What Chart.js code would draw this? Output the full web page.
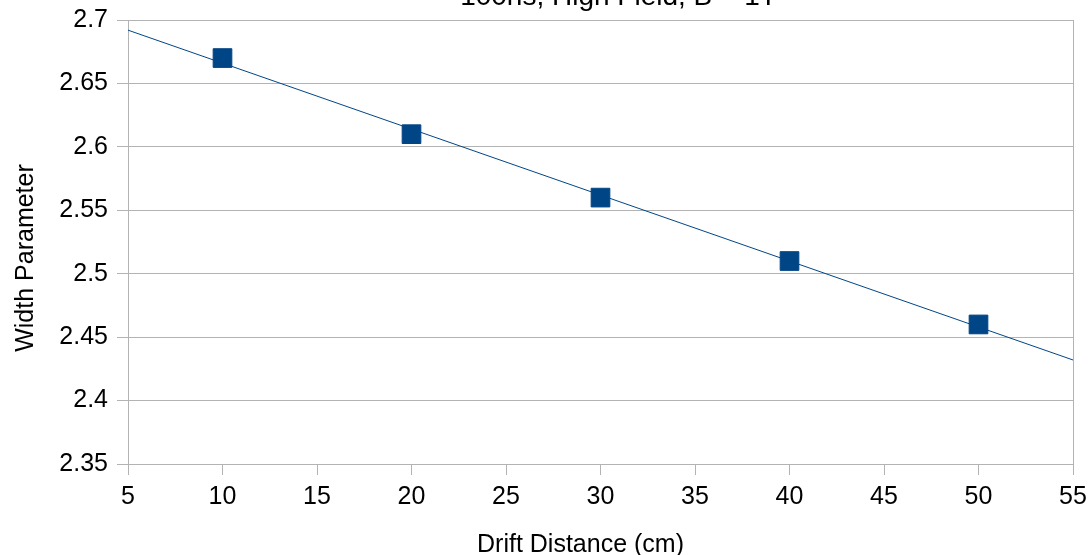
<!DOCTYPE html>
<html>
<head>
<meta charset="utf-8">
<script src="https://cdn.jsdelivr.net/npm/chart.js@4"></script>
<style>
  html, body { margin: 0; padding: 0; background: #ffffff; }
  #wrap { width: 1090px; height: 555px; position: relative; }
</style>
</head>
<body>
<div id="wrap"><canvas id="c" width="1090" height="555"></canvas></div>
<script>
// ---- data ----
const chartTitle = "100ns, High Field, B = 1T";
const xAxisTitle = "Drift Distance (cm)";
const yAxisTitle = "Width Parameter";
const driftDistance = [10, 20, 30, 40, 50];
const widthParameter = [2.67, 2.61, 2.56, 2.51, 2.46];
// linear trend line endpoints
const trendX = [5, 55];
const trendY = [2.692, 2.432];
const xTickLabels = ["5", "10", "15", "20", "25", "30", "35", "40", "45", "50", "55"];
const yTickLabels = ["2.35", "2.4", "2.45", "2.5", "2.55", "2.6", "2.65", "2.7"];

const seriesColor = "#004586";
const gridColor = "#b3b3b3";
const FONT = "'Liberation Sans', Arial, sans-serif";

const points = driftDistance.map((x, i) => ({ x: x, y: widthParameter[i] }));
const trend = trendX.map((x, i) => ({ x: x, y: trendY[i] }));

const textPlugin = {
  id: 'textPlugin',
  afterDraw(chart) {
    const ctx = chart.ctx;
    const a = chart.chartArea;
    ctx.save();
    ctx.fillStyle = '#000000';
    ctx.textAlign = 'center';
    ctx.textBaseline = 'alphabetic';
    // chart title (partially clipped at the top, as in the reference)
    ctx.font = "28px " + FONT;
    ctx.fillText(chartTitle, (a.left + a.right) / 2 + 18, 5);
    // x axis title
    ctx.font = "25px " + FONT;
    ctx.fillText(xAxisTitle, (a.left + a.right) / 2 - 20, 552);
    // y axis title
    ctx.translate(33, (a.top + a.bottom) / 2 + 16);
    ctx.rotate(-Math.PI / 2);
    ctx.fillText(yAxisTitle, 0, 0);
    ctx.restore();
  }
};

new Chart(document.getElementById('c'), {
  type: 'scatter',
  data: {
    datasets: [
      {
        label: 'Width Parameter',
        data: points,
        pointStyle: 'rect',
        pointRadius: 13.2,
        pointBackgroundColor: seriesColor,
        pointBorderColor: seriesColor,
        pointBorderWidth: 1,
        showLine: false
      },
      {
        label: 'Trend',
        data: trend,
        showLine: true,
        borderColor: seriesColor,
        borderWidth: 1,
        pointRadius: 0,
        fill: false
      }
    ]
  },
  options: {
    responsive: false,
    animation: false,
    devicePixelRatio: 1,
    layout: { padding: { top: 20, right: 17, left: 0, bottom: 0 } },
    plugins: {
      legend: { display: false },
      tooltip: { enabled: false },
      title: { display: false }
    },
    scales: {
      x: {
        type: 'linear',
        min: 5,
        max: 55,
        afterFit(scale) {
          scale.height = 91;
          scale.paddingLeft = 0;
          scale.paddingRight = 0;
        },
        ticks: {
          stepSize: 5,
          color: '#000000',
          font: { family: FONT, size: 25 },
          padding: 7,
          maxRotation: 0,
          callback: (v, i) => xTickLabels[i]
        },
        grid: {
          drawOnChartArea: true,
          color: (c) => (c.tick && c.tick.value === 55) ? gridColor : 'rgba(0,0,0,0)',
          tickColor: gridColor,
          tickLength: 11,
          lineWidth: 1
        },
        border: { display: true, color: gridColor, width: 1 }
      },
      y: {
        type: 'linear',
        min: 2.35,
        max: 2.7,
        afterFit(scale) {
          scale.width = 128;
          scale.paddingTop = 0;
          scale.paddingBottom = 0;
        },
        ticks: {
          stepSize: 0.05,
          color: '#000000',
          font: { family: FONT, size: 25 },
          padding: 9,
          callback: (v, i) => yTickLabels[i]
        },
        grid: {
          color: gridColor,
          tickColor: gridColor,
          tickLength: 11,
          lineWidth: 1
        },
        border: { display: true, color: gridColor, width: 1 }
      }
    }
  },
  plugins: [textPlugin]
});
</script>
</body>
</html>
